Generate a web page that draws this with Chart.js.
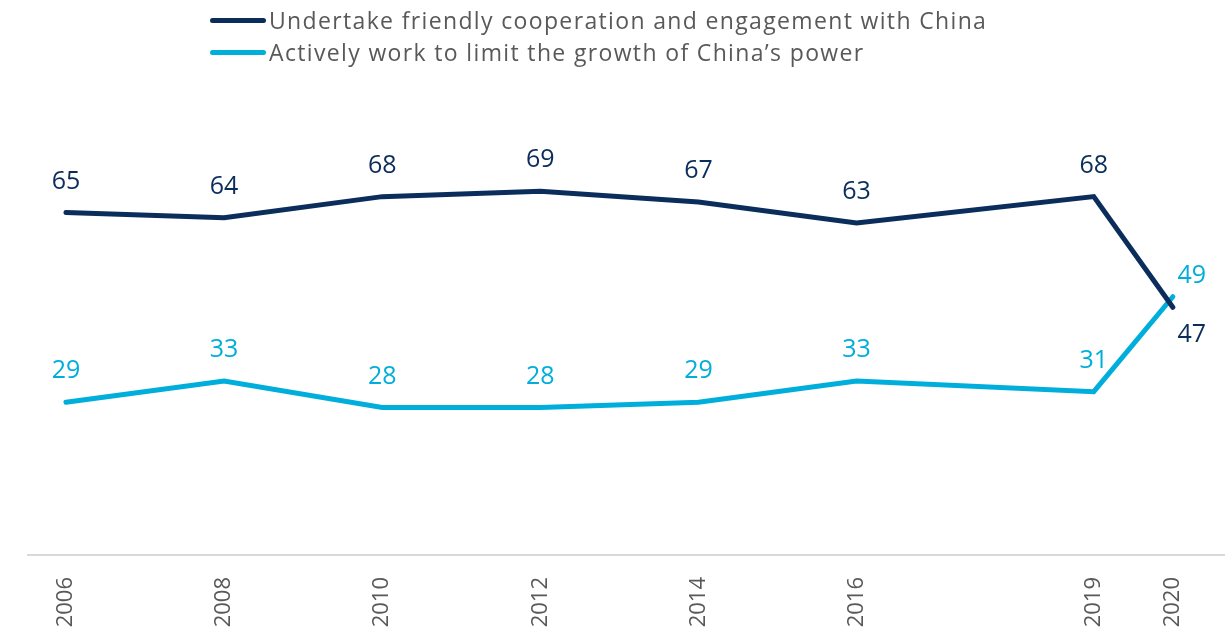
<!DOCTYPE html>
<html>
<head>
<meta charset="utf-8">
<script src="https://cdn.jsdelivr.net/npm/chart.js@4/dist/chart.umd.min.js"></script>
<style>
  html, body { margin: 0; padding: 0; background: #fff; }
  #wrap { position: relative; width: 1225px; height: 638px; }
  #legend { position: absolute; left: 210px; top: 6px; font-family: "Open Sans", sans-serif; font-size: 23px; letter-spacing: 1.35px; color: #595959; z-index: 2; }
  #legend div { height: 32px; line-height: 28px; white-space: nowrap; }
  #legend span.mk { display: inline-block; width: 56px; height: 5px; border-radius: 3px; vertical-align: middle; margin-right: 3px; position: relative; top: -2px; }
</style>
</head>
<body>
<div id="wrap">
  <div id="legend"></div>
  <canvas id="lineChart" width="1225" height="638"></canvas>
</div>
<script>
'use strict';

var years = [2006, 2008, 2010, 2012, 2014, 2016, 2019, 2020];
var seriesNames = [
  'Undertake friendly cooperation and engagement with China',
  "Actively work to limit the growth of China\u2019s power"
];
var cooperate = [65, 64, 68, 69, 67, 63, 68, 47];
var limit = [29, 33, 28, 28, 29, 33, 31, 49];
var colors = ['#0b2d5b', '#00aedb'];

function toPoints(vals) {
  return years.map(function (y, i) { return { x: y, y: vals[i] }; });
}

// legend
var legendEl = document.getElementById('legend');
seriesNames.forEach(function (name, i) {
  var row = document.createElement('div');
  var mk = document.createElement('span');
  mk.className = 'mk';
  mk.style.background = colors[i];
  row.appendChild(mk);
  row.appendChild(document.createTextNode(name));
  legendEl.appendChild(row);
});

// value labels above points, with the 2020 pair nudged apart
var valueLabels = {
  id: 'valueLabels',
  afterDatasetsDraw: function (chart) {
    var ctx = chart.ctx;
    ctx.save();
    ctx.font = '25px "Open Sans", sans-serif';
    ctx.textAlign = 'center';
    ctx.textBaseline = 'middle';
    chart.data.datasets.forEach(function (ds, di) {
      var meta = chart.getDatasetMeta(di);
      ctx.fillStyle = colors[di];
      meta.data.forEach(function (pt, i) {
        var v = ds.data[i].y;
        var dx = 0, dy = -31;
        if (i === years.length - 1) {
          dx = 19;
          dy = di === 0 ? 28 : -21;
        }
        ctx.fillText(String(v), pt.x + dx, pt.y + dy);
      });
    });
    ctx.restore();
  }
};

var ctx = document.getElementById('lineChart').getContext('2d');
new Chart(ctx, {
  type: 'line',
  data: {
    datasets: [
      { label: seriesNames[0], data: toPoints(cooperate), borderColor: colors[0], backgroundColor: colors[0] },
      { label: seriesNames[1], data: toPoints(limit), borderColor: colors[1], backgroundColor: colors[1] }
    ]
  },
  options: {
    responsive: false,
    animation: false,
    layout: { padding: { left: 28, right: 0, top: 28, bottom: 0 } },
    elements: {
      line: { borderWidth: 5, tension: 0, borderCapStyle: 'round', borderJoinStyle: 'miter' },
      point: { radius: 0, hoverRadius: 0 }
    },
    plugins: {
      legend: { display: false },
      tooltip: { enabled: false }
    },
    scales: {
      x: {
        type: 'linear',
        min: 2005.52,
        max: 2020.66,
        afterBuildTicks: function (scale) {
          scale.ticks = years.map(function (y) { return { value: y }; });
        },
        afterFit: function (scale) { scale.height = 83; },
        grid: { display: false },
        border: { display: true, color: '#d9d9d9', width: 2 },
        ticks: {
          minRotation: 90,
          maxRotation: 90,
          padding: 14,
          color: '#595959',
          font: { family: '"Open Sans", sans-serif', size: 22 },
          callback: function (v) { return String(v); }
        }
      },
      y: {
        display: false,
        min: 0,
        max: 100
      }
    }
  },
  plugins: [valueLabels]
});
</script>
</body>
</html>
